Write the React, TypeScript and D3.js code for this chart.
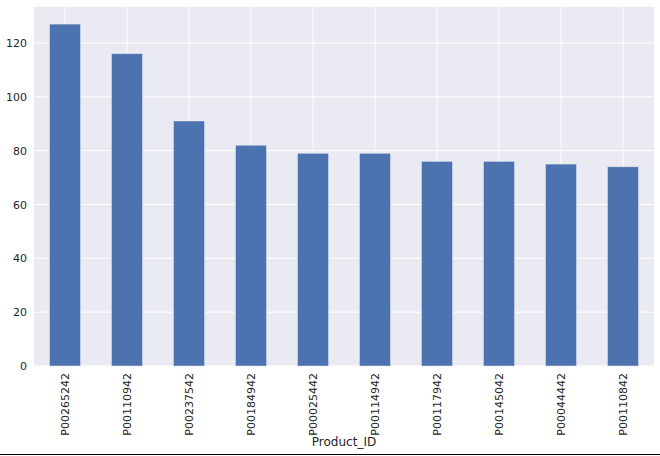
import { useEffect, useRef } from "react";
import * as d3 from "d3";

const productIds = [
  "P00265242",
  "P00110942",
  "P00237542",
  "P00184942",
  "P00025442",
  "P00114942",
  "P00117942",
  "P00145042",
  "P00044442",
  "P00110842",
];

const counts = [127, 116, 91, 82, 79, 79, 76, 76, 75, 74];

const yTicks = [0, 20, 40, 60, 80, 100, 120];

export default function App() {
  const svgRef = useRef<SVGSVGElement | null>(null);

  useEffect(() => {
    if (!svgRef.current) return;

    const width = 660;
    const height = 456;
    const margin = { top: 7, right: 6, bottom: 90, left: 34 };

    const svg = d3.select(svgRef.current);
    svg.selectAll("*").remove();

    const data = productIds.map((id, i) => ({ id, value: counts[i] }));

    const xScale = d3
      .scaleBand<string>()
      .domain(productIds)
      .range([margin.left, width - margin.right])
      .paddingInner(0.5)
      .paddingOuter(0.25);

    const yMax = d3.max(counts) ?? 1;
    const yScale = d3
      .scaleLinear()
      .domain([0, yMax * 1.05])
      .range([height - margin.bottom, margin.top]);

    // Background
    svg
      .append("rect")
      .attr("x", margin.left)
      .attr("y", margin.top)
      .attr("width", width - margin.left - margin.right)
      .attr("height", height - margin.top - margin.bottom)
      .attr("fill", "#eaeaf2");

    // Grid
    svg
      .append("g")
      .selectAll("line")
      .data(yTicks)
      .join("line")
      .attr("x1", margin.left)
      .attr("x2", width - margin.right)
      .attr("y1", (d) => yScale(d))
      .attr("y2", (d) => yScale(d))
      .attr("stroke", "#ffffff")
      .attr("stroke-width", 1);

    svg
      .append("g")
      .selectAll("line")
      .data(productIds)
      .join("line")
      .attr("x1", (d) => (xScale(d) ?? 0) + xScale.bandwidth() / 2)
      .attr("x2", (d) => (xScale(d) ?? 0) + xScale.bandwidth() / 2)
      .attr("y1", margin.top)
      .attr("y2", height - margin.bottom)
      .attr("stroke", "#ffffff")
      .attr("stroke-width", 1);

    // Bars
    svg
      .append("g")
      .selectAll("rect")
      .data(data)
      .join("rect")
      .attr("x", (d) => xScale(d.id) ?? 0)
      .attr("y", (d) => yScale(d.value))
      .attr("width", xScale.bandwidth())
      .attr("height", (d) => yScale(0) - yScale(d.value))
      .attr("fill", "#4c72b0")
      .attr("stroke", "#eaeaf2")
      .attr("stroke-opacity", 0.6)
      .attr("stroke-width", 0.8);

    // Y axis
    const yAxis = svg
      .append("g")
      .attr("transform", `translate(${margin.left},0)`)
      .call(d3.axisLeft(yScale).tickValues(yTicks).tickSize(0).tickPadding(7));
    yAxis.select(".domain").remove();
    yAxis
      .selectAll("text")
      .attr("font-family", "DejaVu Sans")
      .attr("font-size", 11)
      .attr("fill", "#262626");

    // X axis
    const xAxis = svg
      .append("g")
      .attr("transform", `translate(0,${height - margin.bottom})`)
      .call(d3.axisBottom(xScale).tickSize(0).tickPadding(0));
    xAxis.select(".domain").remove();
    xAxis
      .selectAll("text")
      .attr("font-family", "DejaVu Sans")
      .attr("font-size", 11)
      .attr("fill", "#262626")
      .attr("transform", "rotate(-90)")
      .attr("x", -7)
      .attr("y", 0)
      .attr("dy", "0.35em")
      .style("text-anchor", "end");

    // Axis label
    svg
      .append("text")
      .attr("x", (margin.left + width - margin.right) / 2)
      .attr("y", 446)
      .attr("text-anchor", "middle")
      .attr("font-family", "DejaVu Sans")
      .attr("font-size", 12)
      .attr("fill", "#262626")
      .text("Product_ID");

    // Bottom rule
    svg
      .append("line")
      .attr("x1", 0)
      .attr("x2", width)
      .attr("y1", 454.5)
      .attr("y2", 454.5)
      .attr("stroke", "#000000")
      .attr("stroke-width", 1);
  }, []);

  return (
    <svg
      ref={svgRef}
      width={660}
      height={456}
      style={{ position: "absolute", left: 0, top: 0, background: "#ffffff" }}
    ></svg>
  );
}
